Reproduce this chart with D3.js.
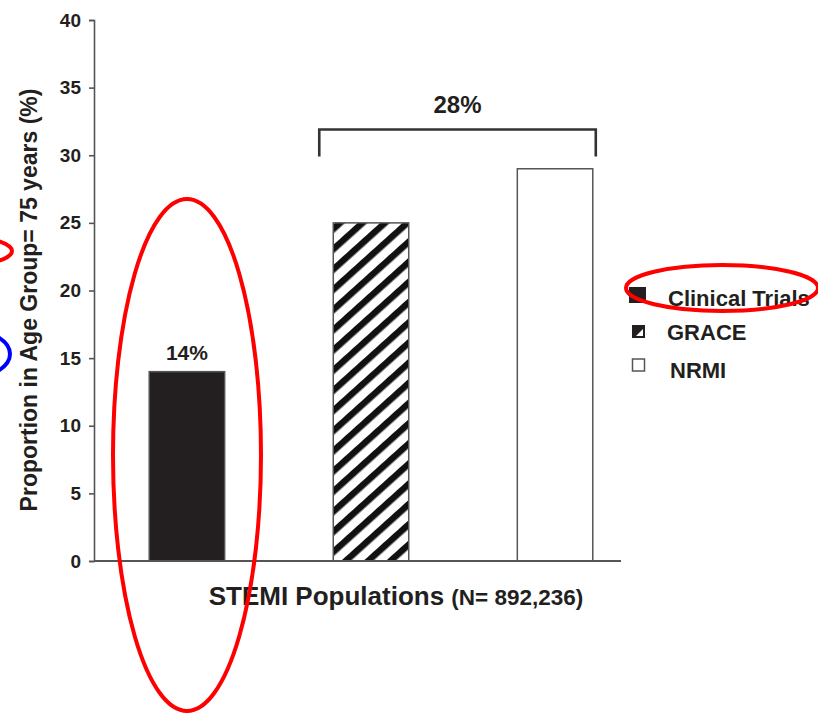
<!DOCTYPE html>
<html>
<head>
<meta charset="utf-8">
<script src="https://cdn.jsdelivr.net/npm/d3@7"></script>
<style>
  html, body { margin: 0; padding: 0; background: #fff; }
  svg { display: block; }
  text { font-family: "Liberation Sans", Arial, sans-serif; font-weight: bold; fill: #231f20; }
</style>
</head>
<body>
<svg id="chart" width="818" height="713"></svg>
<script>
// Share of STEMI patients aged 75 and over, by population source
const categories = ["Clinical Trials", "GRACE", "NRMI"];
const values = [14, 25, 29];
const yTicks = [0, 5, 10, 15, 20, 25, 30, 35, 40];
const barLabels = ["14%", null, null];
const bracketLabel = "28%";
const yTitle = "Proportion in Age Group= 75 years (%)";
const xTitleMain = "STEMI Populations";
const xTitleNote = "(N= 892,236)";

const svg = d3.select("#chart");
const ink = "#231f20";
const axisGrey = "#555";

const y = d3.scaleLinear().domain([0, 40]).range([561, 20]);
const x = d3.scaleBand().domain(categories).range([94, 648])
  .paddingInner(0.59).paddingOuter(0.30);

// hatch pattern for the GRACE bar
const defs = svg.append("defs");
const hatch = defs.append("pattern")
  .attr("id", "hatch").attr("patternUnits", "userSpaceOnUse")
  .attr("width", 15).attr("height", 15)
  .attr("patternTransform", "rotate(-42)");
hatch.append("rect").attr("width", 15).attr("height", 15).attr("fill", "#fff");
hatch.append("rect").attr("x", 0).attr("y", 0).attr("width", 15).attr("height", 6.5).attr("fill", "#111");

const fills = { "Clinical Trials": ink, "GRACE": "url(#hatch)", "NRMI": "#fff" };

// y axis
const yAxis = svg.append("g").attr("transform", "translate(94,0)")
  .call(d3.axisLeft(y).tickValues(yTicks).tickSize(5).tickPadding(8));
yAxis.select(".domain").attr("stroke", axisGrey).attr("stroke-width", 1.6);
yAxis.selectAll(".tick line").attr("stroke", axisGrey).attr("stroke-width", 1.6);
yAxis.selectAll(".tick text")
  .attr("font-family", "Liberation Sans, Arial, sans-serif")
  .attr("font-weight", "bold").attr("font-size", 19).attr("fill", ink);

// bars
svg.append("g").selectAll("rect").data(categories).join("rect")
  .attr("x", d => x(d))
  .attr("y", (d, i) => y(values[i]))
  .attr("width", x.bandwidth())
  .attr("height", (d, i) => y(0) - y(values[i]))
  .attr("fill", d => fills[d])
  .attr("stroke", axisGrey).attr("stroke-width", 1.5);

// baseline
svg.append("line")
  .attr("x1", 94).attr("x2", 621).attr("y1", y(0)).attr("y2", y(0))
  .attr("stroke", axisGrey).attr("stroke-width", 1.8);

// value label on single bar
svg.append("g").selectAll("text").data(categories.filter((d, i) => barLabels[i])).join("text")
  .attr("x", d => x(d) + x.bandwidth() / 2)
  .attr("y", d => y(values[categories.indexOf(d)]) - 12)
  .attr("text-anchor", "middle").attr("font-size", 21)
  .text(d => barLabels[categories.indexOf(d)]);

// bracket over the registry bars
const bx1 = x("GRACE") - 14, bx2 = x("NRMI") + x.bandwidth() + 3;
const bTop = y(31.9), bEnd = y(29.9);
svg.append("path")
  .attr("d", `M${bx1},${bEnd}V${bTop}H${bx2}V${bEnd}`)
  .attr("fill", "none").attr("stroke", "#333").attr("stroke-width", 2.6);
svg.append("text")
  .attr("x", (bx1 + bx2) / 2).attr("y", bTop - 17)
  .attr("text-anchor", "middle").attr("font-size", 24)
  .text(bracketLabel);

// axis titles
svg.append("text")
  .attr("transform", `translate(37,300) rotate(-90)`)
  .attr("text-anchor", "middle").attr("font-size", 23)
  .text(yTitle);

const xt = svg.append("text").attr("x", 396).attr("y", 605).attr("text-anchor", "middle");
xt.append("tspan").attr("font-size", 26).text(xTitleMain + " ");
xt.append("tspan").attr("font-size", 22.5).text(xTitleNote);

// legend
const legend = svg.append("g");
const legendRows = [
  { name: "Clinical Trials", sy: 287, size: 17, ty: 306, tx: 668 },
  { name: "GRACE", sy: 325, size: 13, ty: 340, tx: 667 },
  { name: "NRMI", sy: 359, size: 13, ty: 378, tx: 670 }
];
legendRows.forEach(r => {
  const g = legend.append("g");
  if (r.name === "GRACE") {
    g.append("rect").attr("x", 632).attr("y", r.sy).attr("width", r.size).attr("height", r.size)
      .attr("fill", ink);
    g.append("path")
      .attr("d", `M${632 + r.size - 2},${r.sy + 4}V${r.sy + r.size - 2}H${632 + 4}Z`)
      .attr("fill", "#fff");
  } else if (r.name === "NRMI") {
    g.append("rect").attr("x", 632.5).attr("y", r.sy).attr("width", r.size - 1).attr("height", r.size - 1)
      .attr("fill", "#fff").attr("stroke", axisGrey).attr("stroke-width", 1.5);
  } else {
    g.append("rect").attr("x", 629).attr("y", r.sy).attr("width", r.size).attr("height", r.size - 1)
      .attr("fill", ink);
  }
  g.append("text").attr("x", r.tx).attr("y", r.ty).attr("font-size", 22).text(r.name);
});

// hand-drawn highlight marks
const marks = svg.append("g").attr("fill", "none").attr("stroke-width", 4);
marks.append("ellipse").attr("cx", 187).attr("cy", 455).attr("rx", 74).attr("ry", 256).attr("stroke", "#f00");
marks.append("ellipse").attr("cx", 722).attr("cy", 288).attr("rx", 96).attr("ry", 23).attr("stroke", "#f00");
marks.append("ellipse").attr("cx", -60).attr("cy", 251).attr("rx", 72).attr("ry", 17).attr("stroke", "#f00");
marks.append("ellipse").attr("cx", -40).attr("cy", 354).attr("rx", 50).attr("ry", 26).attr("stroke", "#00f");
</script>
</body>
</html>
